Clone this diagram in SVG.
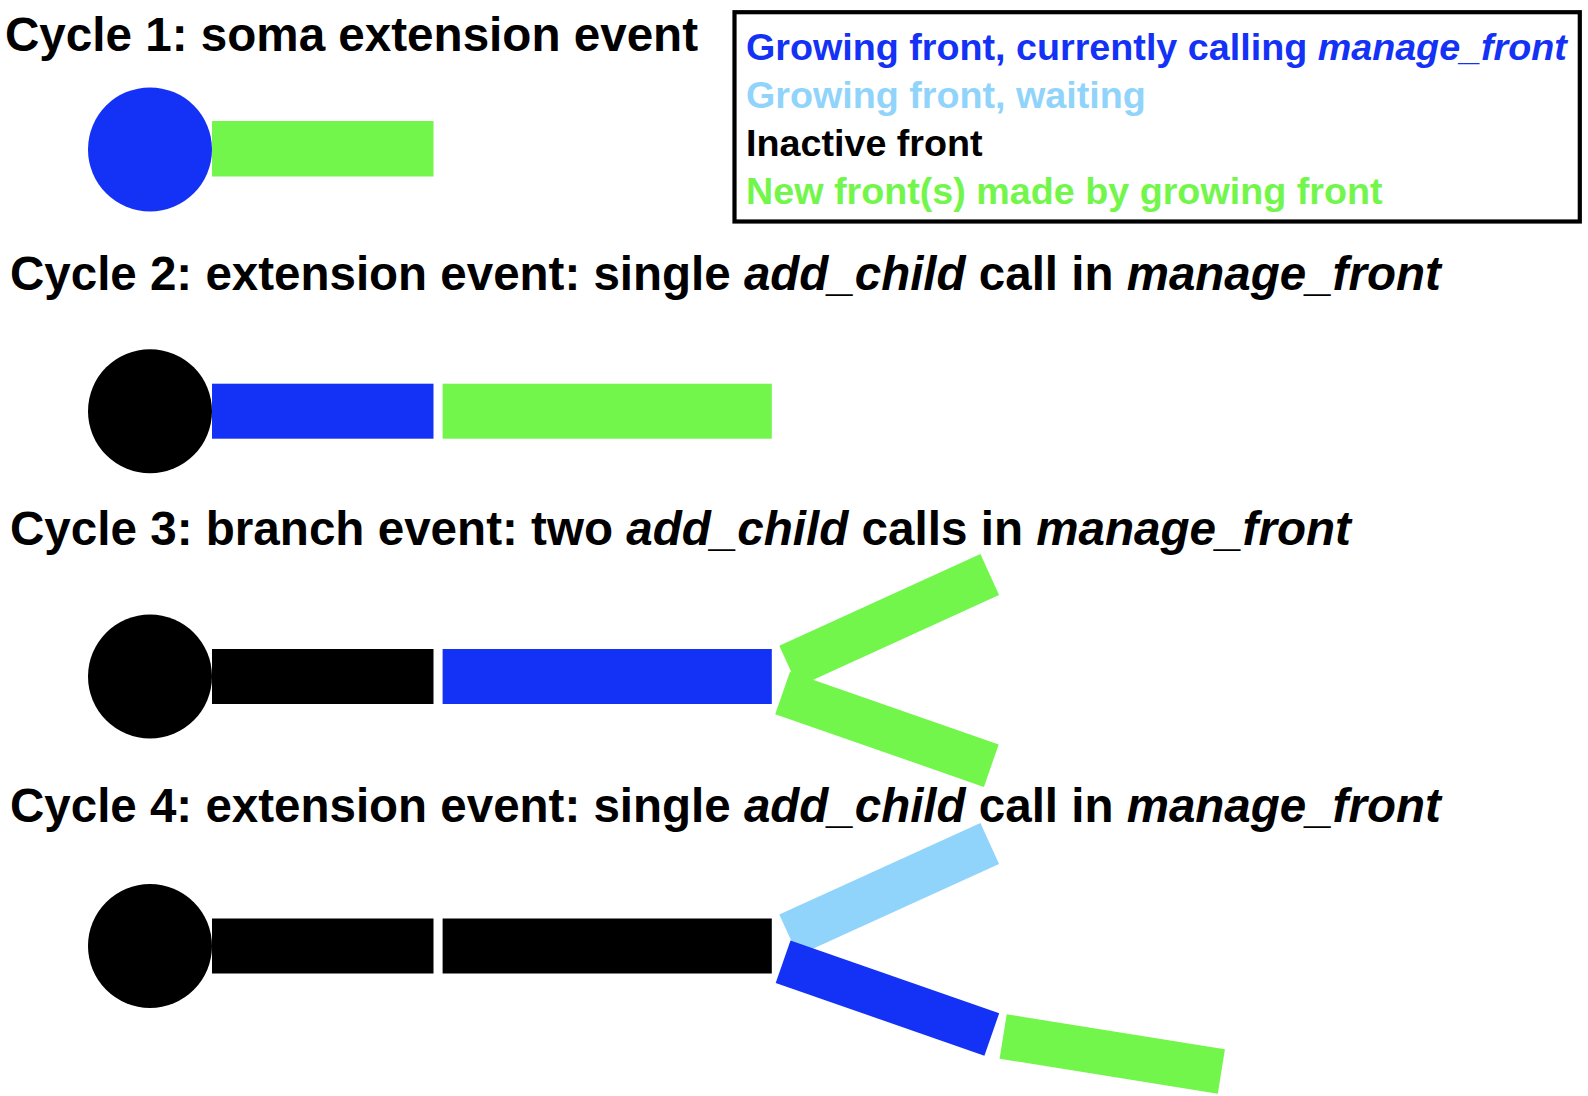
<svg xmlns="http://www.w3.org/2000/svg" width="1588" height="1096" viewBox="0 0 1588 1096">
<style>
text{font-family:"Liberation Sans",Arial,Helvetica,sans-serif;font-weight:bold}
.title{font-size:47.6px;fill:#000}
.leg{font-size:37.7px}
.it{font-style:italic}
.blue{fill:#1432F5}
.lblue{fill:#91D4FB}
.green{fill:#73F64B}
.black{fill:#000}
</style>
<rect width="1588" height="1096" fill="#fff"/>
<g id="legend">
<rect x="734.5" y="12.2" width="845.3" height="209.3" fill="#fff" stroke="#000" stroke-width="4.2"/>
<text class="leg blue" x="746" y="59.5">Growing front, currently calling <tspan class="it">manage_front</tspan></text>
<text class="leg lblue" x="746" y="107.5">Growing front, waiting</text>
<text class="leg black" x="746" y="155.5">Inactive front</text>
<text class="leg green" x="746" y="203.5">New front(s) made by growing front</text>
</g>
<g id="cycle1">
<text class="title" x="5" y="51">Cycle 1: soma extension event</text>
<g id="c1-soma"><circle class="blue" cx="150" cy="149.4" r="62"/></g>
<g id="c1-front1"><rect class="green" x="212" y="121" width="221.5" height="55.5"/></g>
</g>
<g id="cycle2">
<text class="title" x="10" y="290" style="font-size:47.5px">Cycle 2: extension event: single <tspan class="it">add_child</tspan> call in <tspan class="it">manage_front</tspan></text>
<g id="c2-soma"><circle class="black" cx="150" cy="411.2" r="62"/></g>
<g id="c2-front1"><rect class="blue" x="212" y="383.7" width="221.5" height="55"/></g>
<g id="c2-front2"><rect class="green" x="442.6" y="383.7" width="329.2" height="55"/></g>
</g>
<g id="cycle3">
<text class="title" x="10" y="545">Cycle 3: branch event: two <tspan class="it">add_child</tspan> calls in <tspan class="it">manage_front</tspan></text>
<g id="c3-soma"><circle class="black" cx="150" cy="676.5" r="62"/></g>
<g id="c3-front1"><rect class="black" x="212" y="649" width="221.5" height="55"/></g>
<g id="c3-front2"><rect class="blue" x="442.6" y="649" width="329.2" height="55"/></g>
<g id="c3-front3"><rect class="green" x="0" y="0" width="221" height="45" transform="translate(779.3,645.7) rotate(-24.5)"/></g>
<g id="c3-front4"><rect class="green" x="0" y="0" width="221" height="45" transform="translate(790,671.7) rotate(19.2)"/></g>
</g>
<g id="cycle4">
<text class="title" x="10" y="822" style="font-size:47.5px">Cycle 4: extension event: single <tspan class="it">add_child</tspan> call in <tspan class="it">manage_front</tspan></text>
<g id="c4-soma"><circle class="black" cx="150" cy="946" r="62"/></g>
<g id="c4-front1"><rect class="black" x="212" y="918.5" width="221.5" height="55"/></g>
<g id="c4-front2"><rect class="black" x="442.6" y="918.5" width="329.2" height="55"/></g>
<g id="c4-front3"><rect class="lblue" x="0" y="0" width="221" height="45" transform="translate(779.3,914.6) rotate(-24.5)"/></g>
<g id="c4-front4"><rect class="blue" x="0" y="0" width="221" height="45" transform="translate(790.5,940.5) rotate(19.2)"/></g>
<g id="c4-front5"><rect class="green" x="0" y="0" width="221" height="45" transform="translate(1006.7,1014.3) rotate(9.1)"/></g>
</g>
<g id="connectors"></g>
</svg>
